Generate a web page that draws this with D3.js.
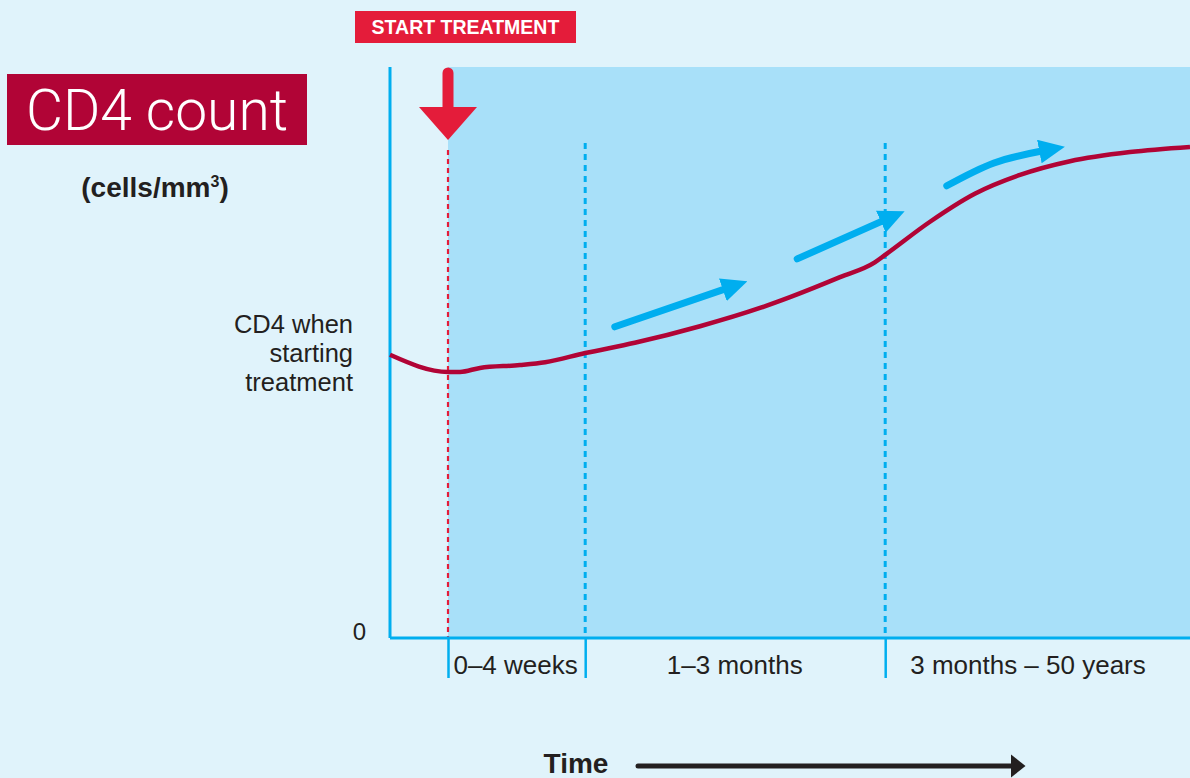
<!DOCTYPE html>
<html>
<head>
<meta charset="utf-8">
<script src="https://cdn.jsdelivr.net/npm/d3@7"></script>
<style>
  body { margin: 0; background: #e0f3fb; }
  svg { display: block; font-family: "Liberation Sans", Arial, Helvetica, sans-serif; }
</style>
</head>
<body>
<div id="chart"></div>
<script>
// CD4 count over time after starting treatment (schematic, arbitrary units 0-100)
var curveX = [0, 7.25, 8.75, 11.25, 16.25, 19.4, 24.4, 30.6, 38.75, 46.25, 50, 56.25, 60.6, 61.9, 67.5, 73.1, 78.75, 85, 92.5, 100];
var curveY = [49.6, 46.6, 46.6, 47.3, 47.8, 48.3, 49.9, 51.7, 54.6, 57.8, 59.7, 63.2, 65.8, 67.1, 72.9, 77.8, 81.1, 83.5, 85.1, 86.0];

var phaseBounds = [7.25, 24.4, 61.9];
var phaseLabels = ["0\u20134 weeks", "1\u20133 months", "3 months \u2013 50 years"];
var labelCenters = [15.7, 43.1, 79.75];
var startValue = 49.9;
var startLabel = ["CD4 when", "starting", "treatment"];

// trend arrows, as [x, y] pairs in chart units
var arrows = [
  [[28.1, 54.5], [44.75, 62.5]],
  [[50.9, 66.4], [64.4, 74.8]],
  [[69.6, 79.2], [75.5, 83.2], [84.4, 86.3]]
];

var W = 1190, H = 778;
var margin = {top: 67, right: 0, bottom: 140, left: 390};
var width = W - margin.left - margin.right,
    height = H - margin.top - margin.bottom;

var blue = "#00aeef", crimson = "#b10436", red = "#e41c3a", ink = "#231f20";

var svg = d3.select("#chart").append("svg").attr("width", W).attr("height", H);

var defs = svg.append("defs");
defs.append("marker").attr("id", "bluehead")
    .attr("viewBox", "0 0 10 10").attr("refX", 1).attr("refY", 5)
    .attr("preserveAspectRatio", "none")
    .attr("markerUnits", "userSpaceOnUse")
    .attr("markerWidth", 26).attr("markerHeight", 24)
    .attr("orient", "auto")
  .append("path").attr("d", "M0,0L10,5L0,10Z").attr("fill", blue);
defs.append("marker").attr("id", "blackhead")
    .attr("viewBox", "0 0 10 10").attr("refX", 1).attr("refY", 5)
    .attr("preserveAspectRatio", "none")
    .attr("markerUnits", "userSpaceOnUse")
    .attr("markerWidth", 15).attr("markerHeight", 24)
    .attr("orient", "auto")
  .append("path").attr("d", "M0,0L10,5L0,10Z").attr("fill", ink);

var g = svg.append("g").attr("transform", "translate(" + margin.left + "," + margin.top + ")");

var x = d3.scaleLinear().domain([0, 100]).range([0, width]);
var y = d3.scaleLinear().domain([0, 100]).range([height, 0]);

// shaded treatment period
g.append("rect")
  .attr("x", x(phaseBounds[0])).attr("y", 0)
  .attr("width", x(100) - x(phaseBounds[0])).attr("height", height)
  .attr("fill", "#a8e0f9");

// start-of-treatment dashed line
g.append("line")
  .attr("x1", x(phaseBounds[0])).attr("x2", x(phaseBounds[0]))
  .attr("y1", 83).attr("y2", height)
  .attr("stroke", red).attr("stroke-width", 2.2).attr("stroke-dasharray", "5,4");

// phase separators
g.selectAll(".sep").data(phaseBounds.slice(1)).enter().append("line")
  .attr("x1", function(d){return x(d)}).attr("x2", function(d){return x(d)})
  .attr("y1", 76).attr("y2", height)
  .attr("stroke", blue).attr("stroke-width", 3).attr("stroke-dasharray", "6,5");

// x axis with boundary ticks
var xAxis = g.append("g").attr("transform", "translate(0," + height + ")")
  .call(d3.axisBottom(x).tickValues(phaseBounds).tickSize(40).tickFormat(""));
xAxis.select(".domain").attr("stroke", blue).attr("stroke-width", 3).attr("d", "M0,0H" + width);
xAxis.selectAll(".tick line").attr("stroke", blue).attr("stroke-width", 2.5);

// y axis
var yAxis = g.append("g")
  .call(d3.axisLeft(y).tickValues([0]).tickSize(0).tickPadding(24));
yAxis.select(".domain").attr("stroke", blue).attr("stroke-width", 3).attr("d", "M0,0V" + height);
yAxis.selectAll(".tick text").style("font-size", "24px").attr("fill", ink).attr("dy", "0.05em");

// phase labels
g.selectAll(".plabel").data(phaseLabels).enter().append("text")
  .attr("x", function(d, i){return x(labelCenters[i])})
  .attr("y", height + 36)
  .attr("text-anchor", "middle")
  .style("font-size", "26px").attr("fill", ink)
  .text(function(d){return d});

// starting value label
g.append("text")
  .attr("x", -37).attr("y", y(startValue) - 20)
  .attr("text-anchor", "end")
  .style("font-size", "25.5px").attr("fill", ink)
  .selectAll("tspan").data(startLabel).enter().append("tspan")
  .attr("x", -37).attr("dy", function(d, i){return i === 0 ? 0 : 29})
  .text(function(d){return d});

// CD4 curve
var pts = curveX.map(function(d, i){return [d, curveY[i]]});
g.append("path").datum(pts)
  .attr("fill", "none").attr("stroke", crimson).attr("stroke-width", 4.5)
  .attr("d", d3.line().x(function(d){return x(d[0])}).y(function(d){return y(d[1])}).curve(d3.curveMonotoneX));

// trend arrows
g.selectAll(".arrow").data(arrows).enter().append("path")
  .attr("fill", "none").attr("stroke", blue).attr("stroke-width", 7).attr("stroke-linecap", "round")
  .attr("marker-end", "url(#bluehead)")
  .attr("d", function(d){
    // shorten last segment so the head tip lands on the last point
    var a = d[d.length - 2], b = d[d.length - 1];
    var dx = x(b[0]) - x(a[0]), dy = y(b[1]) - y(a[1]);
    var len = Math.sqrt(dx * dx + dy * dy), cut = 24;
    var pts2 = d.slice(0, -1).map(function(p){return [x(p[0]), y(p[1])]});
    pts2.push([x(b[0]) - dx / len * cut, y(b[1]) - dy / len * cut]);
    return d3.line().curve(d3.curveNatural)(pts2);
  });

// start treatment arrow
var sx = margin.left + x(phaseBounds[0]);
svg.append("line").attr("x1", sx).attr("x2", sx).attr("y1", 73).attr("y2", 110)
  .attr("stroke", red).attr("stroke-width", 11).attr("stroke-linecap", "round");
svg.append("path").attr("fill", red)
  .attr("d", "M" + (sx - 29) + ",107L" + (sx + 29) + ",107L" + sx + ",140Z");

svg.append("rect").attr("x", 355).attr("y", 11).attr("width", 221).attr("height", 32).attr("fill", red);
svg.append("text").attr("x", 465.5).attr("y", 34).attr("text-anchor", "middle")
  .style("font-size", "19.5px").style("font-weight", "bold").attr("fill", "#fff")
  .text("START TREATMENT");

// title box
svg.append("rect").attr("x", 7).attr("y", 74).attr("width", 300).attr("height", 71).attr("fill", crimson);
svg.append("text").attr("x", 157).attr("y", 130).attr("text-anchor", "middle")
  .style("font-family", "Roboto, 'Liberation Sans', sans-serif")
  .style("font-size", "57px").style("font-weight", 300).attr("fill", "#fff")
  .text("CD4 count");

var unit = svg.append("text").attr("x", 155).attr("y", 197).attr("text-anchor", "middle")
  .style("font-size", "28px").style("font-weight", "bold").attr("fill", ink);
unit.append("tspan").text("(cells/mm");
unit.append("tspan").attr("dy", -10).style("font-size", "16px").text("3");
unit.append("tspan").attr("dy", 10).text(")");

// time arrow
svg.append("text").attr("x", 576).attr("y", 773).attr("text-anchor", "middle")
  .style("font-size", "28px").style("font-weight", "bold").attr("fill", ink)
  .text("Time");
svg.append("line").attr("x1", 638).attr("x2", 1012).attr("y1", 766).attr("y2", 766)
  .attr("stroke", ink).attr("stroke-width", 5).attr("stroke-linecap", "round")
  .attr("marker-end", "url(#blackhead)");
</script>
</body>
</html>
